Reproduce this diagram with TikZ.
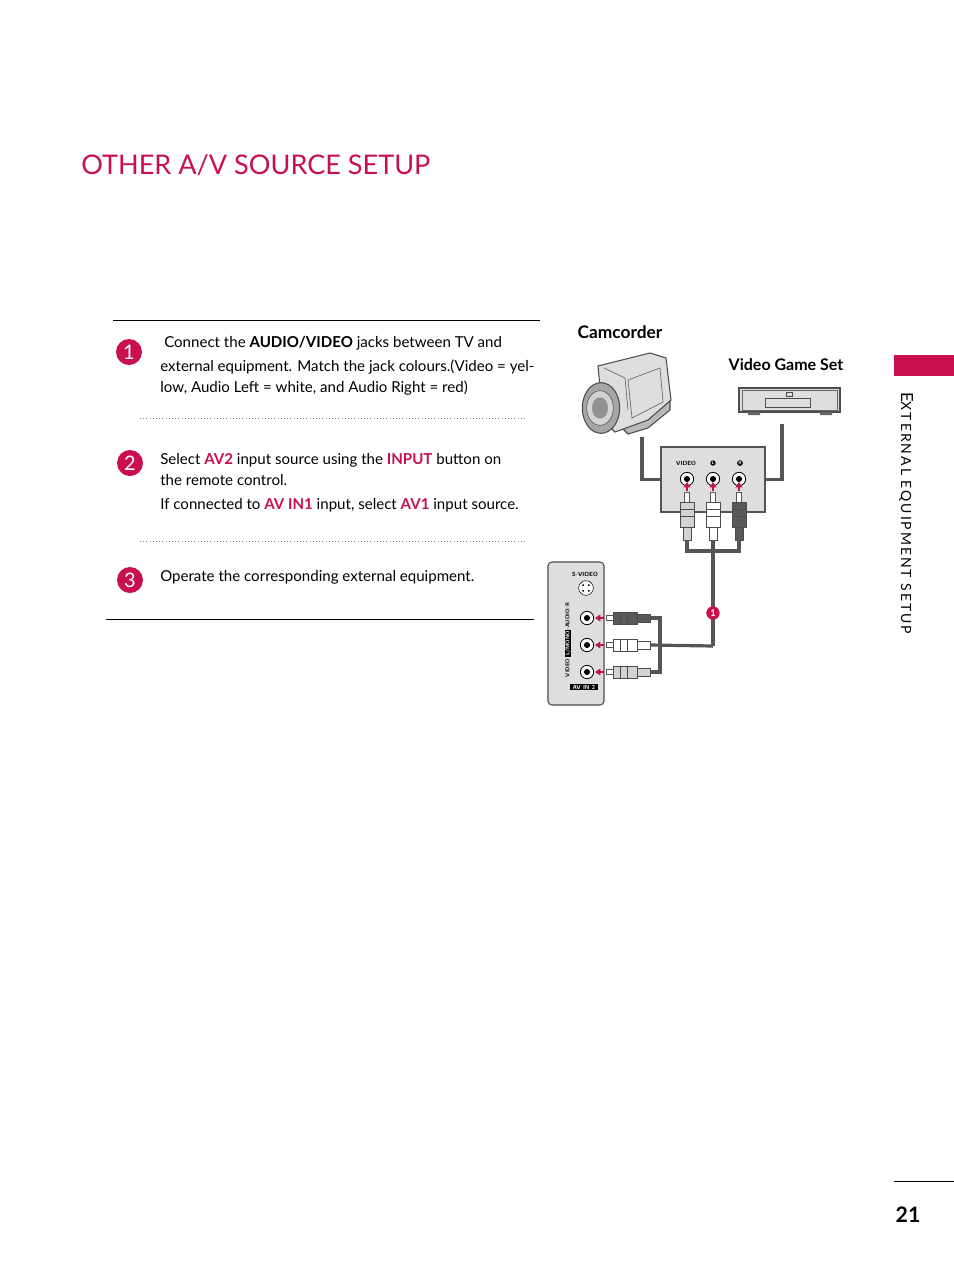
\documentclass[tikz,border=0pt]{standalone}
\usepackage{fontspec}
\setmainfont{Lato}
\usetikzlibrary{arrows.meta}
\definecolor{lgred}{RGB}{200,16,80}
\definecolor{pgray}{RGB}{222,222,222}
\definecolor{cable}{RGB}{85,85,85}
\begin{document}
\begin{tikzpicture}[x=0.75pt,y=-0.75pt,
  numc/.style={circle,fill=lgred,text=white,inner sep=0pt,minimum size=19.5pt,font=\fontsize{15}{15}\selectfont},
  body/.style={anchor=base west,inner sep=0pt,font=\fontsize{11.3}{14}\selectfont},
  cab/.style={draw=cable,line width=2.4pt},
  jack/.style={circle,draw=black,fill=white,line width=0.6pt,minimum size=10pt,inner sep=0pt}]
\useasboundingbox (0,0) rectangle (954,1272);
% title
\node[anchor=base west,inner sep=0pt,text=lgred,font=\fontsize{20.3}{21}\selectfont] (title) at (81,174) {OTHER A/V SOURCE SETUP};
% rules
\draw[line width=0.7pt] (113,320) -- (540,320);
\draw[line width=0.7pt] (106,619) -- (534,619);
\draw[dotted,gray,line width=0.4pt] (140,418) -- (527,418);
\draw[dotted,gray,line width=0.4pt] (140,541) -- (527,541);
% numbers
\node[numc] (n1) at (129,352) {1};
\node[numc] (n2) at (130,463) {2};
\node[numc] (n3) at (130,580) {3};
\node[body] (t1a) at (164,347) {Connect the \textbf{AUDIO/VIDEO} jacks between TV and};
\node[body] (t1b) at (160,371) {external equipment. Match the jack colours.(Video = yel-};
\node[body] (t1c) at (160,392) {low, Audio Left = white, and Audio Right = red)};
\node[body] (t2a) at (160,464) {Select {\color{lgred}\textbf{AV2}} input source using the {\color{lgred}\textbf{INPUT}} button on};
\node[body] (t2b) at (160,485) {the remote control.};
\node[body] (t2c) at (160,509) {If connected to {\color{lgred}\textbf{AV IN1}} input, select {\color{lgred}\textbf{AV1}} input source.};
\node[body] (t3) at (160,581) {Operate the corresponding external equipment.};
% side tab
\fill[lgred] (894,355) rectangle (954,376);
\node[rotate=-90,anchor=west,inner sep=0pt,font=\addfontfeature{LetterSpace=14}\fontsize{12.5}{12}\selectfont] (side) at (906,392) {E\fontsize{10.5}{10}\selectfont XTERNAL EQUIPMENT SETUP};
% page number
\draw[line width=0.5pt] (894,1181) -- (954,1181);
\node[font=\bfseries\fontsize{16}{16}\selectfont] (pg) at (908,1215) {21};
% labels
\node[font=\bfseries\fontsize{13}{13}\selectfont] (cam) at (620,332) {Camcorder};
\node[font=\bfseries\fontsize{12}{12}\selectfont] (vgs) at (786,365) {Video Game Set};
% camcorder
\coordinate (camc) at (642,437);
\fill[gray!55,draw=black!70,line width=0.8pt] (612,418) -- (628,434) -- (648,428) -- (670,410) -- (670,398) -- cycle;
\fill[pgray,draw=black!70,line width=0.8pt] (598,366) -- (650,353) -- (666,358) -- (671,400) -- (648,420) -- (615,432) -- (603,420) -- cycle;
\draw[black!60,line width=0.5pt] (628,380) -- (660,368) -- (663,402) -- (632,418) -- cycle;
\draw[black!60,line width=0.5pt] (604,368) -- (625,378) -- (628,410);
\fill[gray!70,draw=black!70,line width=0.8pt] (601,408) ellipse (14pt and 19pt);
\fill[gray!35,draw=black!70] (600,408) ellipse (10pt and 13pt);
\fill[gray!85] (600,408) ellipse (6pt and 8pt);
% game set
\coordinate (gsc) at (782,424);
\fill[pgray,draw=black!70,line width=0.8pt] (739,388) rectangle (840,412);
\draw[black!60] (742,390) rectangle (837,410);
\draw[black!70] (765,398) rectangle (810,407);
\draw[black!70] (786,392) rectangle (792,396);
\fill[black!60] (748,412) rectangle (760,415) (820,412) rectangle (832,415);
% AV panel
\node[draw=cable,fill=pgray,line width=1.5pt,minimum width=104*0.75pt,minimum height=65*0.75pt,inner sep=0pt] (panel) at (713,479.5) {};
\node[font=\sffamily\bfseries\fontsize{4.5}{5}\selectfont] (lv) at (686,463) {VIDEO};
\node[circle,fill=black,text=white,inner sep=0.3pt,font=\sffamily\bfseries\fontsize{3.5}{4}\selectfont] (ll) at (713,463) {L};
\node[circle,fill=black,text=white,inner sep=0.3pt,font=\sffamily\bfseries\fontsize{3.5}{4}\selectfont] (lr) at (740,463) {R};
\foreach \i/\x in {a/687,b/713,c/739}{
  \node[jack] (j\i) at (\x,479) {};
  \fill (\x,479) circle (2.3pt);
}
\draw[cab] (camc) |- (panel.west);
\draw[cab] (gsc) |- (panel.east);
% vertical plugs
\foreach \i/\x/\c in {a/687/gray!35,b/713/white,c/739/black!65}{
  \draw[cable,fill=white,line width=0.6pt] (\x-2.5,492) rectangle (\x+2.5,502);
  \draw[black!70,fill=\c,line width=0.6pt] (\x-7,502) rectangle (\x+7,527);
  \draw[black!70] (\x-7,509) -- (\x+7,509) (\x-7,516) -- (\x+7,516);
  \draw[black!70,fill=\c,line width=0.6pt] (\x-4,527) rectangle (\x+4,540);
  \draw[-{Triangle[width=5pt,length=4pt]},lgred,line width=2pt] (\x,491) -- (\x,482);
  \coordinate (vp\i) at (\x,540);
}
\coordinate (hub) at (713,551);
\coordinate (bend) at (713,646);
\draw[cab] (vpa) |- (hub) -| (vpc);
\draw[cab] (vpb) -- (bend);
% TV side panel
\draw[black!70,fill=pgray,line width=0.8pt,rounded corners=3pt] (548,562) rectangle (604,705);
\node[font=\sffamily\bfseries\fontsize{4.5}{5}\selectfont] (sv) at (585,574) {S-VIDEO};
\node[circle,draw=black,fill=white,minimum size=11pt,inner sep=0pt] (svj) at (586,588) {};
\foreach \a in {45,135,225,315} \fill (586,588) ++(\a:3pt) circle (0.8pt);
\node[rotate=90,font=\sffamily\bfseries\fontsize{4.2}{5}\selectfont] (sidelbl) at (568,640) {VIDEO \fboxsep=0.5pt\colorbox{black}{\color{white}L/MONO}-AUDIO-R};
\node[fill=black,text=white,font=\sffamily\bfseries\fontsize{4.5}{5}\selectfont,inner sep=1pt,minimum width=28*0.75pt] (avin) at (584,687) {AV IN 2};
\foreach \i/\y/\c in {a/618/black!65,b/645/white,c/672/gray!35}{
  \node[jack] (tj\i) at (587,\y) {};
  \fill (587,\y) circle (2.3pt);
  \draw[cable,fill=white,line width=0.6pt] (606,\y-2.5) rectangle (613,\y+2.5);
  \draw[black!70,fill=\c,line width=0.6pt] (613,\y-6) rectangle (637,\y+6);
  \draw[black!70] (620,\y-6) -- (620,\y+6) (627,\y-6) -- (627,\y+6);
  \draw[black!70,fill=\c,line width=0.6pt] (637,\y-4) rectangle (650,\y+4);
  \draw[-{Triangle[width=5pt,length=4pt]},lgred,line width=2pt] (604,\y) -- (595,\y);
  \coordinate (hp\i) at (650,\y);
}
\coordinate (brc) at (660,672);
\draw[cab] (hpa) -| (brc) -- (hpc);
\draw[cab] (hpb) -- (bend);
\node[circle,fill=lgred,text=white,inner sep=0pt,minimum size=10pt,font=\bfseries\fontsize{7}{7}\selectfont] (badge) at (713,613) {1};
\end{tikzpicture}
\end{document}
